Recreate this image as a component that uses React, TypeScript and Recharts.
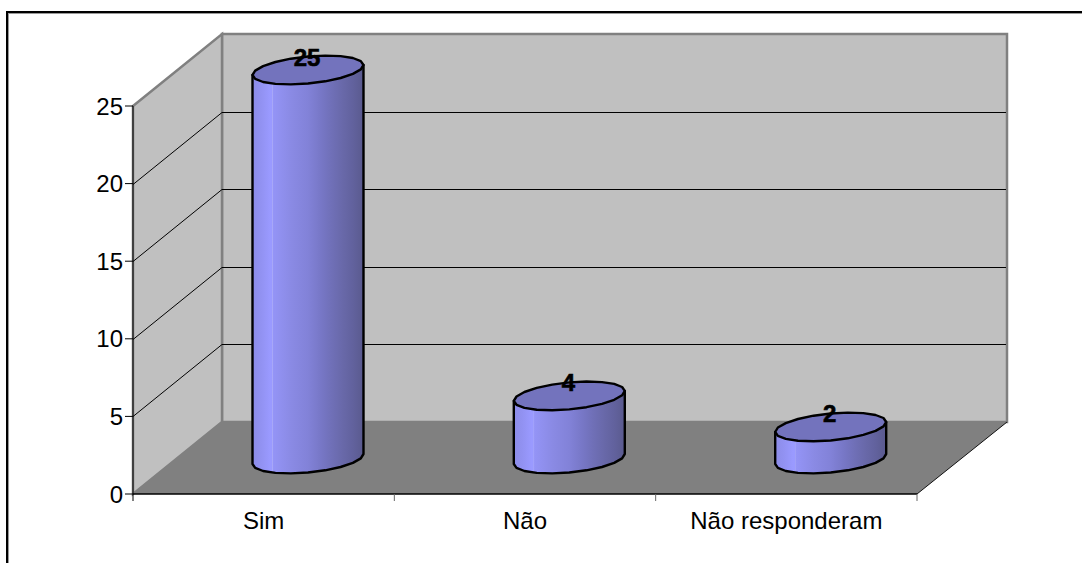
import { BarChart, Bar, XAxis, YAxis, LabelList, usePlotArea } from "recharts";

const categories = ["Sim", "Não", "Não responderam"];
const counts = [25, 4, 2];
const yTicks = [0, 5, 10, 15, 20, 25];
const yMax = 25;

const data = categories.map((name, i) => ({ name, value: counts[i] }));

// how far the back wall sits from the front plane
const DEPTH_X = 89;
const DEPTH_Y = 72;
const FONT = "'Liberation Sans', Arial, sans-serif";

const bodyStops: [number, string][] = [
  [0, "#8c8ce8"],
  [0.08, "#9292f2"],
  [0.16, "#9a9aff"],
  [0.175, "#9a9aff"],
  [0.18, "#a8a8f8"],
  [0.187, "#9494f6"],
  [0.35, "#8a8ae4"],
  [0.5, "#8282d8"],
  [0.62, "#7777c6"],
  [0.72, "#6f6fb6"],
  [0.82, "#6868a8"],
  [0.9, "#62629e"],
  [1, "#5a5a8e"],
];

const Walls = () => {
  const plot = usePlotArea();
  if (!plot) return null;
  const { x, y, width, height } = plot;
  const yOf = (t: number) => Math.round(y + height * (1 - t / yMax)) + 0.5;
  const bottom = y + height;
  const right = x + width;
  const edges = categories.map((_, i) => x + ((i + 1) * width) / categories.length);

  return (
    <g>
      <polygon
        points={`${x + DEPTH_X},${y - DEPTH_Y} ${right + DEPTH_X + 1},${y - DEPTH_Y} ${right + DEPTH_X + 1},${bottom - DEPTH_Y} ${x + DEPTH_X},${bottom - DEPTH_Y}`}
        fill="#c0c0c0"
        stroke="#808080"
        strokeWidth={2.5}
      />
      <polygon
        points={`${x},${y} ${x + DEPTH_X},${y - DEPTH_Y} ${x + DEPTH_X},${bottom - DEPTH_Y} ${x},${bottom}`}
        fill="#c0c0c0"
        stroke="#808080"
        strokeWidth={2.5}
      />
      {yTicks
        .filter((t) => t > 0 && t < yMax)
        .map((t) => (
          <g key={t}>
            <line x1={x} y1={yOf(t)} x2={x + DEPTH_X} y2={yOf(t) - DEPTH_Y} stroke="#000" />
            <line x1={x + DEPTH_X} y1={yOf(t) - DEPTH_Y} x2={right + DEPTH_X} y2={yOf(t) - DEPTH_Y} stroke="#000" />
          </g>
        ))}
      <polygon
        points={`${x},${bottom} ${x + DEPTH_X},${bottom - DEPTH_Y} ${right + DEPTH_X + 1},${bottom - DEPTH_Y} ${right},${bottom}`}
        fill="#808080"
      />
      <line x1={right} y1={bottom} x2={right + DEPTH_X + 1} y2={bottom - DEPTH_Y} stroke="#111" />
      <line x1={x} y1={bottom} x2={right} y2={bottom} stroke="#000" strokeWidth={1.5} />
      <line x1={x} y1={bottom} x2={x} y2={bottom + 7} stroke="#000" />
      {edges.map((ex) => (
        <line key={ex} x1={ex} y1={bottom} x2={ex} y2={bottom + 7} stroke="#666" />
      ))}
    </g>
  );
};

// faceted outline, the cylinder in the source is drawn with short straight segments
const rimPoint = (cx: number, cy: number, rx: number, t: number) => {
  const ry = 13.5;
  const tilt = 5;
  return `${(cx + rx * Math.cos(t)).toFixed(1)},${(cy + ry * Math.sin(t) - tilt * Math.cos(t)).toFixed(1)}`;
};

const Cylinder = (props: any) => {
  const { x, y, width, height } = props;
  const cx = x + width / 2 + DEPTH_X / 2;
  const top = y - DEPTH_Y / 2;
  const base = top + height + 1;
  const rx = width / 2;
  const steps = 10;
  const lower: string[] = [];
  for (let i = 0; i <= steps; i++) lower.push(rimPoint(cx, base, rx, (Math.PI * i) / steps));
  const ring: string[] = [];
  for (let i = 0; i < steps * 2; i++) ring.push(rimPoint(cx, top, rx, (Math.PI * i) / steps));

  const body = `M${rimPoint(cx, top, rx, 0)} L${lower.join(" L")} L${rimPoint(cx, top, rx, Math.PI)} Z`;
  return (
    <g>
      <path d={body} fill="url(#cylinderBody)" stroke="#000" strokeWidth={2.4} strokeLinejoin="round" />
      <polygon points={ring.join(" ")} fill="#7373bd" stroke="#000" strokeWidth={2.4} strokeLinejoin="round" />
    </g>
  );
};

const TopLabel = (props: any) => {
  const { x, y, width, value } = props;
  return (
    <text
      x={x + width / 2 + DEPTH_X / 2 - 1}
      y={y - 49}
      textAnchor="middle"
      dominantBaseline="central"
      fontFamily={FONT}
      fontWeight="bold"
      fontSize={24}
      fill="#000"
      stroke="#000"
      strokeWidth={0.6}
    >
      {value}
    </text>
  );
};

const App = () => {
  return (
    <div style={{ position: "fixed", left: 0, top: 0, width: 1082, height: 563, background: "#fff" }}>
      <div
        style={{
          position: "absolute",
          left: 6,
          top: 11,
          right: 0,
          bottom: 0,
          borderTop: "2px solid #000",
          borderLeft: "2px solid #000",
          boxShadow: "inset 1px 1px 0 #999",
        }}
      />
      <div style={{ position: "absolute", left: 0, top: 0 }}>
        <BarChart
          width={1082}
          height={563}
          data={data}
          margin={{ top: 106, right: 165, bottom: 39, left: 73 }}
        >
          <defs>
            <linearGradient id="cylinderBody" x1="0" y1="0" x2="1" y2="0">
              {bodyStops.map(([o, c]) => (
                <stop key={o} offset={o} stopColor={c} />
              ))}
            </linearGradient>
          </defs>
          <Walls />
          <XAxis
            dataKey="name"
            height={30}
            axisLine={false}
            tickLine={false}
            tickMargin={12}
            interval={0}
            tick={{ fill: "#000", fontSize: 24, fontFamily: FONT }}
          />
          <YAxis
            width={60}
            domain={[0, yMax]}
            ticks={yTicks}
            tickSize={8}
            tickMargin={2}
            stroke="#000"
            tick={{ fill: "#000", fontSize: 24, fontFamily: FONT }}
          />
          <Bar dataKey="value" barSize={111} shape={Cylinder} isAnimationActive={false}>
            <LabelList dataKey="value" content={TopLabel} />
          </Bar>
        </BarChart>
      </div>
    </div>
  );
};

export default App;
